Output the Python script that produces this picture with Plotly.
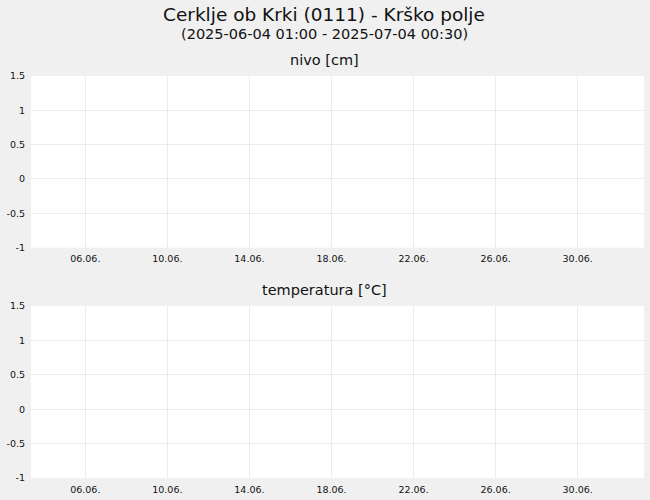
import plotly.graph_objects as go

station = "Cerklje ob Krki (0111) - Krško polje"
period = "(2025-06-04 01:00 - 2025-07-04 00:30)"
panel_titles = ["nivo [cm]", "temperatura [°C]"]

# no measurements in this period -> both panels stay empty
times = []
nivo = []
temperatura = []

x_range = ["2025-06-03 08:28", "2025-07-03 05:35"]
x_tick0 = "2025-06-02"
y_range = [-1, 1.5]
y_ticks = [-1, -0.5, 0, 0.5, 1, 1.5]
y_ticktext = ["-1", "-0.5", "0", "0.5", "1", "1.5"]

fig = go.Figure()
fig.add_trace(go.Scatter(x=times, y=nivo, mode="lines", name="nivo",
                         xaxis="x", yaxis="y"))
fig.add_trace(go.Scatter(x=times, y=temperatura, mode="lines", name="temperatura",
                         xaxis="x2", yaxis="y2"))

xaxis_common = dict(
    type="date",
    range=x_range,
    tick0=x_tick0,
    dtick=4 * 86400000,
    tickformat="%d.%m.",
    showgrid=True,
    gridcolor="#ececec",
    zeroline=False,
    showline=False,
    ticks="",
    ticklabelstandoff=4,
    tickfont=dict(size=9.5, color="#111"),
)
yaxis_common = dict(
    range=y_range,
    tickvals=y_ticks,
    ticktext=y_ticktext,
    showgrid=True,
    gridcolor="#ececec",
    zeroline=False,
    showline=False,
    ticks="",
    ticklabelstandoff=5,
    tickfont=dict(size=9.5, color="#111"),
)

fig.update_layout(
    width=650,
    height=500,
    paper_bgcolor="#f0f0f0",
    plot_bgcolor="#ffffff",
    font=dict(family="DejaVu Sans", color="#111"),
    showlegend=False,
    margin=dict(l=31, r=6, t=76, b=22),
    xaxis=dict(xaxis_common, anchor="y"),
    yaxis=dict(yaxis_common, domain=[0.573, 1], anchor="x"),
    xaxis2=dict(xaxis_common, anchor="y2"),
    yaxis2=dict(yaxis_common, domain=[0, 0.428], anchor="x2"),
)

# texts are centred on the whole page, not on the plot area
cx = (324 - 31) / 613
fig.add_annotation(text=station, xref="paper", yref="paper", x=cx, y=1.154,
                   showarrow=False, font=dict(size=18.5), yanchor="middle")
fig.add_annotation(text=period, xref="paper", yref="paper", x=cx, y=1.104,
                   showarrow=False, font=dict(size=14.5), yanchor="middle")
fig.add_annotation(text=panel_titles[0], xref="paper", yref="paper", x=cx, y=1.040,
                   showarrow=False, font=dict(size=14.5), yanchor="middle")
fig.add_annotation(text=panel_titles[1], xref="paper", yref="paper", x=cx, y=0.467,
                   showarrow=False, font=dict(size=14.5), yanchor="middle")

# drop the default page margin so the figure fills the window
fig.write_html("out.html", config={"displayModeBar": False},
               post_script="document.body.style.margin='0';")
